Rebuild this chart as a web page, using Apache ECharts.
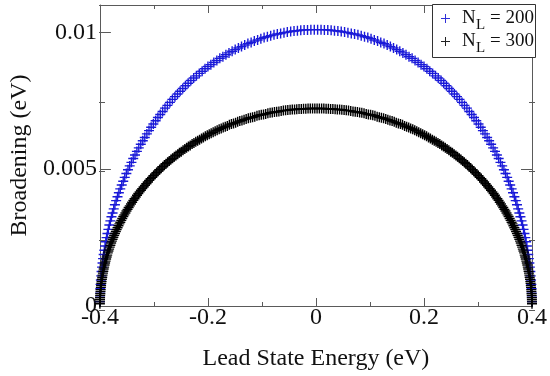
<!DOCTYPE html>
<html>
<head>
<meta charset="utf-8">
<script src="https://cdn.jsdelivr.net/npm/echarts@6/dist/echarts.min.js"></script>
<style>
  html, body { margin: 0; padding: 0; background: #fff; }
  #chart { width: 550px; height: 376px; }
</style>
</head>
<body>
<div id="chart"></div>
<script>
// Lead-state broadening versus lead state energy, for two lead lengths.

// N_L = 200 lead states: energies (eV)
const energies200 = [
-0.4000,-0.3998,-0.3996,-0.3992,-0.3988,-0.3982,-0.3976,-0.3969,-0.3960,-0.3951,
-0.3941,-0.3930,-0.3918,-0.3905,-0.3891,-0.3876,-0.3860,-0.3843,-0.3825,-0.3806,
-0.3786,-0.3766,-0.3744,-0.3722,-0.3699,-0.3674,-0.3649,-0.3623,-0.3596,-0.3568,
-0.3540,-0.3510,-0.3480,-0.3448,-0.3416,-0.3383,-0.3350,-0.3315,-0.3280,-0.3243,
-0.3206,-0.3169,-0.3130,-0.3091,-0.3051,-0.3010,-0.2968,-0.2926,-0.2883,-0.2839,
-0.2795,-0.2750,-0.2704,-0.2658,-0.2611,-0.2563,-0.2515,-0.2466,-0.2416,-0.2366,
-0.2316,-0.2264,-0.2213,-0.2160,-0.2107,-0.2054,-0.2000,-0.1946,-0.1891,-0.1835,
-0.1780,-0.1723,-0.1667,-0.1610,-0.1552,-0.1495,-0.1436,-0.1378,-0.1319,-0.1260,
-0.1200,-0.1141,-0.1080,-0.1020,-0.0960,-0.0899,-0.0838,-0.0777,-0.0715,-0.0654,
-0.0592,-0.0530,-0.0468,-0.0406,-0.0343,-0.0281,-0.0219,-0.0156,-0.0094,-0.0031,
0.0031,0.0094,0.0156,0.0219,0.0281,0.0343,0.0406,0.0468,0.0530,0.0592,
0.0654,0.0715,0.0777,0.0838,0.0899,0.0960,0.1020,0.1080,0.1141,0.1200,
0.1260,0.1319,0.1378,0.1436,0.1495,0.1552,0.1610,0.1667,0.1723,0.1780,
0.1835,0.1891,0.1946,0.2000,0.2054,0.2107,0.2160,0.2213,0.2264,0.2316,
0.2366,0.2416,0.2466,0.2515,0.2563,0.2611,0.2658,0.2704,0.2750,0.2795,
0.2839,0.2883,0.2926,0.2968,0.3010,0.3051,0.3091,0.3130,0.3169,0.3206,
0.3243,0.3280,0.3315,0.3350,0.3383,0.3416,0.3448,0.3480,0.3510,0.3540,
0.3568,0.3596,0.3623,0.3649,0.3674,0.3699,0.3722,0.3744,0.3766,0.3786,
0.3806,0.3825,0.3843,0.3860,0.3876,0.3891,0.3905,0.3918,0.3930,0.3941,
0.3951,0.3960,0.3969,0.3976,0.3982,0.3988,0.3992,0.3996,0.3998,0.4000
];

// N_L = 200 lead states: broadening (eV)
const broadening200 = [
0.00016,0.00032,0.00047,0.00063,0.00079,0.00095,0.00110,0.00126,0.00142,0.00157,
0.00173,0.00188,0.00204,0.00219,0.00235,0.00250,0.00265,0.00280,0.00296,0.00311,
0.00326,0.00340,0.00355,0.00370,0.00385,0.00399,0.00414,0.00428,0.00442,0.00456,
0.00470,0.00484,0.00498,0.00512,0.00525,0.00539,0.00552,0.00565,0.00578,0.00591,
0.00604,0.00616,0.00629,0.00641,0.00653,0.00665,0.00677,0.00689,0.00700,0.00711,
0.00723,0.00733,0.00744,0.00755,0.00765,0.00775,0.00785,0.00795,0.00805,0.00814,
0.00824,0.00833,0.00841,0.00850,0.00858,0.00867,0.00875,0.00882,0.00890,0.00897,
0.00905,0.00911,0.00918,0.00925,0.00931,0.00937,0.00943,0.00948,0.00954,0.00959,
0.00963,0.00968,0.00972,0.00977,0.00981,0.00984,0.00988,0.00991,0.00994,0.00996,
0.00999,0.01001,0.01003,0.01005,0.01006,0.01008,0.01009,0.01009,0.01010,0.01010,
0.01010,0.01010,0.01009,0.01009,0.01008,0.01006,0.01005,0.01003,0.01001,0.00999,
0.00996,0.00994,0.00991,0.00988,0.00984,0.00981,0.00977,0.00972,0.00968,0.00963,
0.00959,0.00954,0.00948,0.00943,0.00937,0.00931,0.00925,0.00918,0.00911,0.00905,
0.00897,0.00890,0.00882,0.00875,0.00867,0.00858,0.00850,0.00841,0.00833,0.00824,
0.00814,0.00805,0.00795,0.00785,0.00775,0.00765,0.00755,0.00744,0.00733,0.00723,
0.00711,0.00700,0.00689,0.00677,0.00665,0.00653,0.00641,0.00629,0.00616,0.00604,
0.00591,0.00578,0.00565,0.00552,0.00539,0.00525,0.00512,0.00498,0.00484,0.00470,
0.00456,0.00442,0.00428,0.00414,0.00399,0.00385,0.00370,0.00355,0.00340,0.00326,
0.00311,0.00296,0.00280,0.00265,0.00250,0.00235,0.00219,0.00204,0.00188,0.00173,
0.00157,0.00142,0.00126,0.00110,0.00095,0.00079,0.00063,0.00047,0.00032,0.00016
];

// N_L = 300 lead states: energies (eV)
const energies300 = [
-0.4000,-0.3999,-0.3998,-0.3997,-0.3995,-0.3992,-0.3989,-0.3986,-0.3982,-0.3978,
-0.3974,-0.3969,-0.3963,-0.3957,-0.3951,-0.3944,-0.3937,-0.3930,-0.3922,-0.3913,
-0.3904,-0.3895,-0.3885,-0.3875,-0.3865,-0.3854,-0.3842,-0.3830,-0.3818,-0.3806,
-0.3792,-0.3779,-0.3765,-0.3751,-0.3736,-0.3721,-0.3705,-0.3690,-0.3673,-0.3656,
-0.3639,-0.3622,-0.3604,-0.3586,-0.3567,-0.3548,-0.3528,-0.3508,-0.3488,-0.3468,
-0.3447,-0.3425,-0.3403,-0.3381,-0.3359,-0.3336,-0.3313,-0.3289,-0.3265,-0.3241,
-0.3216,-0.3191,-0.3166,-0.3140,-0.3114,-0.3088,-0.3061,-0.3034,-0.3007,-0.2979,
-0.2951,-0.2923,-0.2894,-0.2865,-0.2836,-0.2806,-0.2776,-0.2746,-0.2716,-0.2685,
-0.2654,-0.2622,-0.2591,-0.2559,-0.2527,-0.2494,-0.2461,-0.2428,-0.2395,-0.2361,
-0.2328,-0.2293,-0.2259,-0.2225,-0.2190,-0.2155,-0.2119,-0.2084,-0.2048,-0.2012,
-0.1976,-0.1940,-0.1903,-0.1866,-0.1829,-0.1792,-0.1754,-0.1717,-0.1679,-0.1641,
-0.1603,-0.1565,-0.1526,-0.1487,-0.1449,-0.1410,-0.1370,-0.1331,-0.1292,-0.1252,
-0.1212,-0.1173,-0.1133,-0.1092,-0.1052,-0.1012,-0.0971,-0.0931,-0.0890,-0.0849,
-0.0809,-0.0768,-0.0727,-0.0686,-0.0644,-0.0603,-0.0562,-0.0521,-0.0479,-0.0438,
-0.0396,-0.0355,-0.0313,-0.0271,-0.0230,-0.0188,-0.0146,-0.0105,-0.0063,-0.0021,
0.0021,0.0063,0.0105,0.0146,0.0188,0.0230,0.0271,0.0313,0.0355,0.0396,
0.0438,0.0479,0.0521,0.0562,0.0603,0.0644,0.0686,0.0727,0.0768,0.0809,
0.0849,0.0890,0.0931,0.0971,0.1012,0.1052,0.1092,0.1133,0.1173,0.1212,
0.1252,0.1292,0.1331,0.1370,0.1410,0.1449,0.1487,0.1526,0.1565,0.1603,
0.1641,0.1679,0.1717,0.1754,0.1792,0.1829,0.1866,0.1903,0.1940,0.1976,
0.2012,0.2048,0.2084,0.2119,0.2155,0.2190,0.2225,0.2259,0.2293,0.2328,
0.2361,0.2395,0.2428,0.2461,0.2494,0.2527,0.2559,0.2591,0.2622,0.2654,
0.2685,0.2716,0.2746,0.2776,0.2806,0.2836,0.2865,0.2894,0.2923,0.2951,
0.2979,0.3007,0.3034,0.3061,0.3088,0.3114,0.3140,0.3166,0.3191,0.3216,
0.3241,0.3265,0.3289,0.3313,0.3336,0.3359,0.3381,0.3403,0.3425,0.3447,
0.3468,0.3488,0.3508,0.3528,0.3548,0.3567,0.3586,0.3604,0.3622,0.3639,
0.3656,0.3673,0.3690,0.3705,0.3721,0.3736,0.3751,0.3765,0.3779,0.3792,
0.3806,0.3818,0.3830,0.3842,0.3854,0.3865,0.3875,0.3885,0.3895,0.3904,
0.3913,0.3922,0.3930,0.3937,0.3944,0.3951,0.3957,0.3963,0.3969,0.3974,
0.3978,0.3982,0.3986,0.3989,0.3992,0.3995,0.3997,0.3998,0.3999,0.4000
];

// N_L = 300 lead states: broadening (eV)
const broadening300 = [
0.00008,0.00015,0.00023,0.00030,0.00038,0.00045,0.00053,0.00060,0.00068,0.00075,
0.00083,0.00090,0.00098,0.00105,0.00113,0.00120,0.00127,0.00135,0.00142,0.00150,
0.00157,0.00164,0.00172,0.00179,0.00186,0.00194,0.00201,0.00208,0.00215,0.00222,
0.00230,0.00237,0.00244,0.00251,0.00258,0.00265,0.00272,0.00279,0.00286,0.00293,
0.00300,0.00306,0.00313,0.00320,0.00327,0.00333,0.00340,0.00347,0.00353,0.00360,
0.00366,0.00373,0.00379,0.00386,0.00392,0.00398,0.00405,0.00411,0.00417,0.00423,
0.00429,0.00435,0.00441,0.00447,0.00453,0.00459,0.00465,0.00470,0.00476,0.00482,
0.00487,0.00493,0.00498,0.00504,0.00509,0.00515,0.00520,0.00525,0.00530,0.00535,
0.00540,0.00545,0.00550,0.00555,0.00560,0.00564,0.00569,0.00574,0.00578,0.00583,
0.00587,0.00592,0.00596,0.00600,0.00604,0.00608,0.00612,0.00616,0.00620,0.00624,
0.00628,0.00631,0.00635,0.00639,0.00642,0.00646,0.00649,0.00652,0.00655,0.00658,
0.00662,0.00665,0.00667,0.00670,0.00673,0.00676,0.00678,0.00681,0.00683,0.00686,
0.00688,0.00690,0.00692,0.00695,0.00697,0.00699,0.00700,0.00702,0.00704,0.00706,
0.00707,0.00709,0.00710,0.00711,0.00713,0.00714,0.00715,0.00716,0.00717,0.00718,
0.00718,0.00719,0.00720,0.00720,0.00721,0.00721,0.00722,0.00722,0.00722,0.00722,
0.00722,0.00722,0.00722,0.00722,0.00721,0.00721,0.00720,0.00720,0.00719,0.00718,
0.00718,0.00717,0.00716,0.00715,0.00714,0.00713,0.00711,0.00710,0.00709,0.00707,
0.00706,0.00704,0.00702,0.00700,0.00699,0.00697,0.00695,0.00692,0.00690,0.00688,
0.00686,0.00683,0.00681,0.00678,0.00676,0.00673,0.00670,0.00667,0.00665,0.00662,
0.00658,0.00655,0.00652,0.00649,0.00646,0.00642,0.00639,0.00635,0.00631,0.00628,
0.00624,0.00620,0.00616,0.00612,0.00608,0.00604,0.00600,0.00596,0.00592,0.00587,
0.00583,0.00578,0.00574,0.00569,0.00564,0.00560,0.00555,0.00550,0.00545,0.00540,
0.00535,0.00530,0.00525,0.00520,0.00515,0.00509,0.00504,0.00498,0.00493,0.00487,
0.00482,0.00476,0.00470,0.00465,0.00459,0.00453,0.00447,0.00441,0.00435,0.00429,
0.00423,0.00417,0.00411,0.00405,0.00398,0.00392,0.00386,0.00379,0.00373,0.00366,
0.00360,0.00353,0.00347,0.00340,0.00333,0.00327,0.00320,0.00313,0.00306,0.00300,
0.00293,0.00286,0.00279,0.00272,0.00265,0.00258,0.00251,0.00244,0.00237,0.00230,
0.00222,0.00215,0.00208,0.00201,0.00194,0.00186,0.00179,0.00172,0.00164,0.00157,
0.00150,0.00142,0.00135,0.00127,0.00120,0.00113,0.00105,0.00098,0.00090,0.00083,
0.00075,0.00068,0.00060,0.00053,0.00045,0.00038,0.00030,0.00023,0.00015,0.00008
];

// legend entries: symbol, subscript, value
const legendSubscript = 'L';
const legendValues = ['200', '300'];
const seriesNames = legendValues.map(v => 'N_' + legendSubscript + ' = ' + v);
const xTicks = [-0.4, -0.2, 0, 0.2, 0.4];
const yTicks = [0, 0.005, 0.01];

const FONT = '"Liberation Serif", "Times New Roman", serif';
const BLUE = '#1a1ad8';
const BLACK = '#000000';
const AXIS = '#5a5a5a';
const COLORS = [BLUE, BLACK];
// plus-sign marker, drawn as a filled cross
const PLUS = 'path://M4.3,0H5.7V4.3H10V5.7H5.7V10H4.3V5.7H0V4.3H4.3Z';

const pairs = (xs, ys) => xs.map((x, i) => [x, ys[i]]);

const near = (v, list) => list.some(t => Math.abs(t - v) < 1e-9);
const fmt = v => (Math.abs(v) < 1e-12 ? '0' : String(+v.toFixed(4)));

const gridBox = { left: 99, right: 15, top: 5, bottom: 66 };

const baseLine = { show: true, onZero: false, lineStyle: { color: AXIS, width: 1 } };
const noLine = { show: false, onZero: false };

// Boxed key in the top-right corner: a "+" and "N_L = value" per row
function legendGraphics() {
  const els = [{
    type: 'rect', z: 10,
    shape: { x: 432.5, y: 4.5, width: 103, height: 53 },
    style: { fill: '#ffffff', stroke: '#333333', lineWidth: 1 }
  }];
  const rowMid = [18.5, 41.5];
  legendValues.forEach((val, i) => {
    const cy = rowMid[i];
    const col = i === 0 ? '#3030d8' : '#222222';
    els.push({ type: 'line', z: 11, shape: { x1: 441, y1: cy, x2: 450, y2: cy }, style: { stroke: col, lineWidth: 1 } });
    els.push({ type: 'line', z: 11, shape: { x1: 445.5, y1: cy - 4.5, x2: 445.5, y2: cy + 4.5 }, style: { stroke: col, lineWidth: 1 } });
    els.push({ type: 'text', z: 11, x: 462, y: cy, style: { text: 'N', font: '19px ' + FONT, fill: '#111', verticalAlign: 'middle', align: 'left' } });
    els.push({ type: 'text', z: 11, x: 476, y: cy + 7, style: { text: legendSubscript, font: '15px ' + FONT, fill: '#111', verticalAlign: 'middle', align: 'left' } });
    els.push({ type: 'text', z: 11, x: 490, y: cy, style: { text: '= ' + val, font: '19px ' + FONT, fill: '#111', verticalAlign: 'middle', align: 'left' } });
  });
  return els;
}

const chart = echarts.init(document.getElementById('chart'), null, { renderer: 'canvas' });

chart.setOption({
  animation: false,
  backgroundColor: '#ffffff',
  textStyle: { fontFamily: FONT },
  grid: [Object.assign({}, gridBox), Object.assign({}, gridBox)],
  graphic: legendGraphics(),
  xAxis: [
    {
      gridIndex: 0, type: 'value', position: 'bottom',
      min: -0.4, max: 0.4, interval: 0.2,
      axisLine: baseLine,
      axisTick: { show: true, inside: true, length: 8, lineStyle: { color: AXIS } },
      minorTick: { show: true, splitNumber: 2, length: 4, lineStyle: { color: AXIS } },
      splitLine: { show: false }, minorSplitLine: { show: false },
      axisLabel: {
        margin: 0, fontSize: 24, color: '#111', fontFamily: FONT,
        formatter: v => (near(v, xTicks) ? fmt(v) : '')
      },
      name: 'Lead State Energy (eV)', nameLocation: 'middle', nameGap: 41,
      nameTextStyle: { fontSize: 24, color: '#111', fontFamily: FONT }
    },
    {
      gridIndex: 0, type: 'value', position: 'top',
      min: -0.4, max: 0.4, interval: 0.2,
      axisLine: baseLine,
      axisTick: { show: true, inside: true, length: 8, lineStyle: { color: AXIS } },
      minorTick: { show: true, splitNumber: 2, length: 4, lineStyle: { color: AXIS } },
      splitLine: { show: false }, axisLabel: { show: false }
    },
    {
      gridIndex: 1, type: 'value', min: -0.4, max: 0.4, show: false,
      axisLine: noLine
    }
  ],
  yAxis: [
    {
      gridIndex: 0, type: 'value', position: 'left',
      min: 0, max: 0.011, interval: 0.005,
      axisLine: baseLine,
      axisTick: { show: true, inside: true, length: 11, lineStyle: { color: AXIS } },
      splitLine: { show: false },
      axisLabel: {
        margin: 3, fontSize: 24, color: '#111', fontFamily: FONT, showMaxLabel: false,
        formatter: v => (near(v, yTicks) ? fmt(v) : '')
      },
      name: 'Broadening (eV)', nameLocation: 'middle', nameGap: 64,
      nameTextStyle: { fontSize: 24, color: '#111', fontFamily: FONT }
    },
    {
      gridIndex: 0, type: 'value', position: 'right',
      min: 0, max: 0.011, interval: 0.005,
      axisLine: baseLine,
      axisTick: { show: true, inside: true, length: 11, lineStyle: { color: AXIS } },
      splitLine: { show: false }, axisLabel: { show: false }
    },
    {
      gridIndex: 1, type: 'value', position: 'left',
      min: 0, max: 0.011, interval: 0.0025,
      axisLine: noLine,
      axisTick: { show: true, inside: true, length: 6, lineStyle: { color: AXIS } },
      splitLine: { show: false }, axisLabel: { show: false }
    },
    {
      gridIndex: 1, type: 'value', position: 'right',
      min: 0, max: 0.011, interval: 0.0025,
      axisLine: noLine,
      axisTick: { show: true, inside: true, length: 6, lineStyle: { color: AXIS } },
      splitLine: { show: false }, axisLabel: { show: false }
    }
  ],
  series: [
    {
      name: seriesNames[0], type: 'scatter', xAxisIndex: 0, yAxisIndex: 0,
      symbol: PLUS, symbolSize: 10, clip: false,
      itemStyle: { color: COLORS[0], opacity: 1 },
      data: pairs(energies200, broadening200)
    },
    {
      name: seriesNames[1], type: 'scatter', xAxisIndex: 0, yAxisIndex: 0,
      symbol: PLUS, symbolSize: 10, clip: false,
      itemStyle: { color: COLORS[1], opacity: 1 },
      data: pairs(energies300, broadening300)
    }
  ]
});
</script>
</body>
</html>
